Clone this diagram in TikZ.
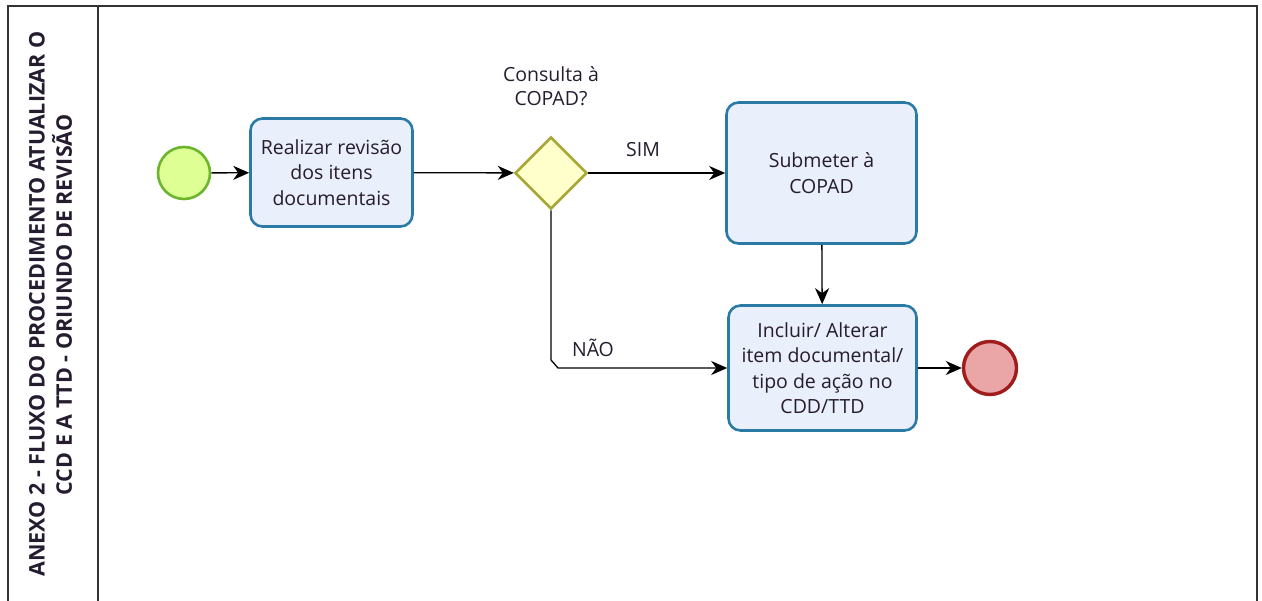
\documentclass[tikz,border=0pt]{standalone}
\usepackage{fontspec}
\setmainfont{Open Sans}
\usetikzlibrary{arrows.meta,shapes.geometric}

\begin{document}
\begin{tikzpicture}[x=1pt,y=-1pt,>={Stealth[length=16pt,width=14pt,inset=5pt]},line width=1.3pt]
\definecolor{taskfill}{HTML}{E9EFFB}
\definecolor{taskline}{HTML}{2A7AA5}
\definecolor{startfill}{HTML}{DDFF93}
\definecolor{startline}{HTML}{6CB52D}
\definecolor{gwfill}{HTML}{FFFFCC}
\definecolor{gwline}{HTML}{A8A838}
\definecolor{endfill}{HTML}{EAA6A6}
\definecolor{endline}{HTML}{A01B1B}
\definecolor{schrift}{HTML}{261C30}
\tikzset{
  task/.style={draw=taskline,fill=taskfill,line width=2.6pt,rounded corners=12pt,
    align=center,inner sep=0pt,text=schrift,font=\fontsize{19.5}{25.5}\selectfont},
  label/.style={align=center,text=schrift,font=\fontsize{19.5}{24.5}\selectfont},
}

\useasboundingbox (0,0) rectangle (1262,601);
\clip (0,0) rectangle (1262,601);

% Rahmen und Bahn
\draw[line width=2pt,color=black!80] (8,6) rectangle (1257,640);
\draw[line width=2pt,color=black!80] (98,6) -- (98,640);
\node[rotate=90,text=schrift,font=\bfseries\fontsize{21.5}{24}\selectfont] (titel1) at (37,304)
  {ANEXO 2 - FLUXO DO PROCEDIMENTO ATUALIZAR O};
\node[rotate=90,text=schrift,font=\bfseries\fontsize{21.5}{24}\selectfont] (titel2) at (62,305)
  {CCD E A TTD - ORIUNDO DE REVISÃO};

% Ereignisse
\node[circle,draw=startline,fill=startfill,line width=2.6pt,minimum size=52pt,inner sep=0pt]
  (start) at (184,173) {};
\node[circle,draw=endline,fill=endfill,line width=3.4pt,minimum size=53pt,inner sep=0pt]
  (ende) at (990,368) {};

% Aufgaben
\node[task,minimum width=162pt,minimum height=108pt] (revisao) at (331.5,172.5)
  {Realizar revisão\\dos itens\\documentais};
\node[task,minimum width=190pt,minimum height=141pt] (submeter) at (821.5,173)
  {Submeter à\\COPAD};
\node[task,minimum width=188pt,minimum height=125pt] (incluir) at (822.5,368)
  {Incluir/ Alterar\\item documental/\\tipo de ação no\\CDD/TTD};

% Gateway
\node[diamond,draw=gwline,fill=gwfill,line width=2.6pt,minimum width=72pt,minimum height=72pt,
  inner sep=0pt,aspect=1] (consulta) at (551,173) {};
\node[label] (frage) at (551,86) {Consulta à\\COPAD?};

% Verbindungen
\draw[->] (start) -- (revisao);
\draw[->] (revisao) -- (consulta);
\draw[->] (consulta) -- (submeter);
\node[label] (sim) at (643,150) {SIM};
\draw[->] (submeter) -- (incluir);
\draw[->] (consulta.south) -- ([yshift=8pt]consulta.south |- incluir.west)
  -- ([xshift=7pt]consulta.south |- incluir.west) -- (incluir.west);
\node[label] (nao) at (593,348) {NÃO};
\draw[->] (incluir) -- (ende);

\end{tikzpicture}
\end{document}
